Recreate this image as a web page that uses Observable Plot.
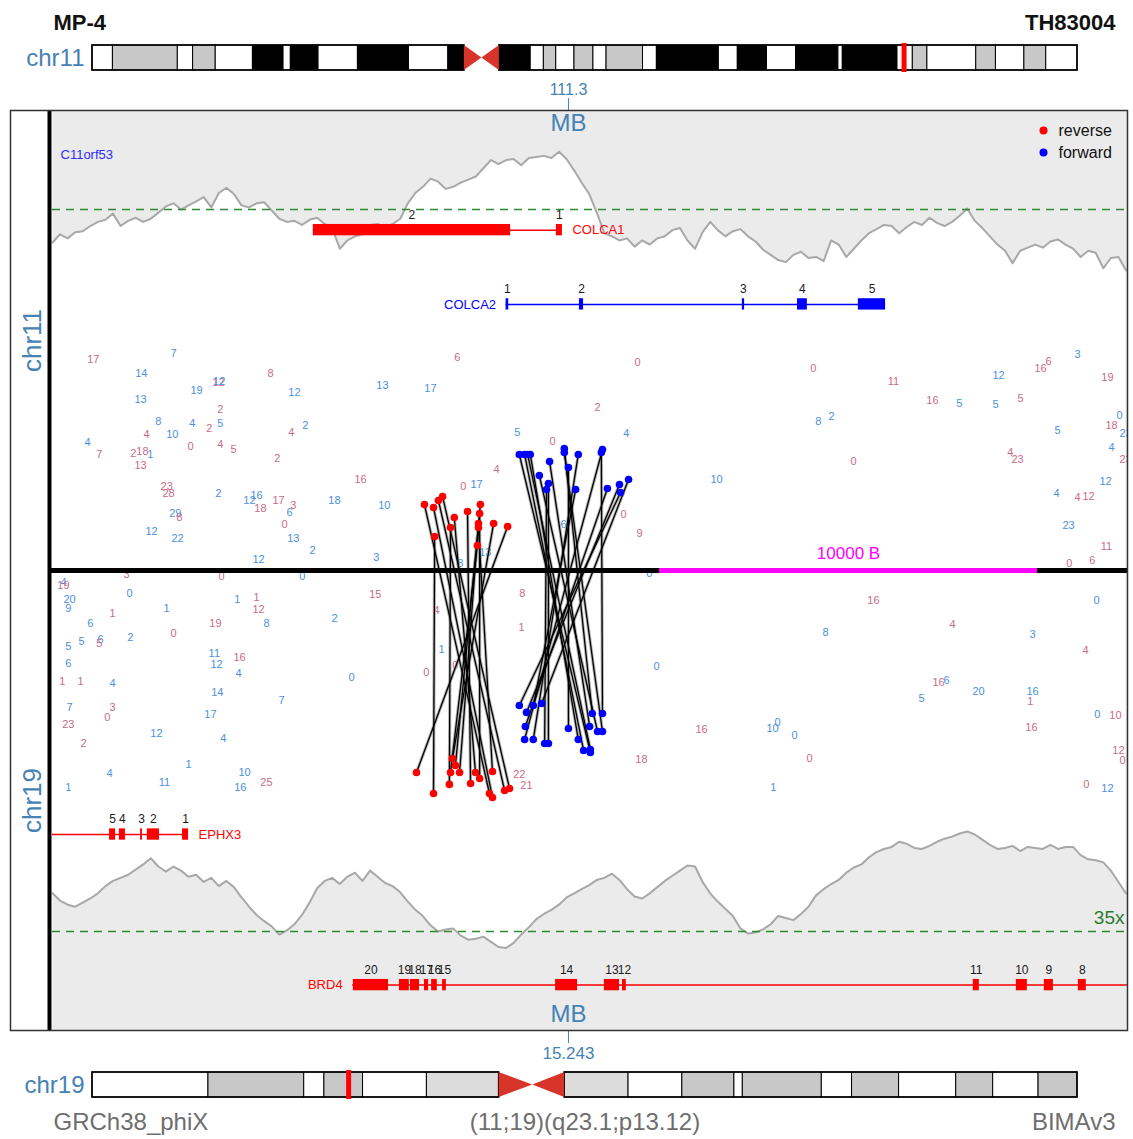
<!DOCTYPE html>
<html>
<head>
<meta charset="utf-8">
<script src="https://cdn.jsdelivr.net/npm/d3@7"></script>
<script src="https://cdn.jsdelivr.net/npm/@observablehq/plot@0.6"></script>
<style>
  body { margin: 0; background: #fff; }
  #chart { width: 1133px; }
  #chart svg { display: block; }
</style>
</head>
<body>
<div id="chart"></div>
<script>
// ---- sample / annotation text ----
const sampleName = "MP-4";
const sampleId = "TH83004";
const genomeBuild = "GRCh38_phiX";
const karyotype = "(11;19)(q23.1;p13.12)";
const pipeline = "BIMAv3";

// ---- breakpoints (Mb) and chromosome lengths (Mb) ----
const bp11Mb = 111.3;
const bp19Mb = 15.243;
const chr11Length = 135.086;
const chr19Length = 58.617;

// ---- cytobands: [start Mb, end Mb, stain] ----
const chr11Bands = [
  [0, 2.8, "gneg"], [2.8, 11.7, "gpos50"], [11.7, 13.8, "gneg"], [13.8, 16.9, "gpos50"],
  [16.9, 22.0, "gneg"], [22.0, 26.2, "gpos100"], [26.2, 27.2, "gneg"], [27.2, 31.0, "gpos75"],
  [31.0, 36.4, "gneg"], [36.4, 43.4, "gpos100"], [43.4, 48.8, "gneg"], [48.8, 51.0, "gpos75"],
  [51.0, 53.4, "acen"], [53.4, 55.8, "acen"], [55.8, 60.1, "gpos75"], [60.1, 61.9, "gneg"],
  [61.9, 63.6, "gpos25"], [63.6, 66.1, "gneg"], [66.1, 68.7, "gpos25"], [68.7, 70.5, "gneg"],
  [70.5, 75.5, "gpos50"], [75.5, 77.4, "gneg"], [77.4, 85.9, "gpos100"], [85.9, 88.5, "gneg"],
  [88.5, 92.5, "gpos100"], [92.5, 96.5, "gneg"], [96.5, 102.3, "gpos100"], [102.3, 102.9, "gneg"],
  [102.9, 110.4, "gpos100"], [110.4, 112.5, "gneg"], [112.5, 114.5, "gpos50"], [114.5, 121.2, "gneg"],
  [121.2, 123.9, "gpos50"], [123.9, 127.8, "gneg"], [127.8, 130.8, "gpos50"], [130.8, 135.086, "gneg"]
];
const chr19Bands = [
  [0, 6.9, "gneg"], [6.9, 12.6, "gpos25"], [12.6, 13.8, "gneg"], [13.8, 16.1, "gpos25"],
  [16.1, 19.9, "gneg"], [19.9, 24.2, "gvar"], [24.2, 26.2, "acen"], [26.2, 28.1, "acen"],
  [28.1, 31.9, "gvar"], [31.9, 35.1, "gneg"], [35.1, 38.2, "gpos25"], [38.2, 38.7, "gneg"],
  [38.7, 43.4, "gpos25"], [43.4, 45.2, "gneg"], [45.2, 48.0, "gpos25"], [48.0, 51.4, "gneg"],
  [51.4, 53.6, "gpos25"], [53.6, 56.3, "gneg"], [56.3, 58.617, "gpos25"]
];

// ---- breakpoint window, kb relative to the breakpoint ----
const viewKb = [-13.65, 14.79];
const depthRange = 44.6;   // half-height of the window, in reads
const meanDepth = 35;
const binStartKb = -13.65;
const binKb = 0.2;

// read depth per 200 bp bin
const depth11 = [
  31.8,32.6,32.2,32.8,32.9,33.4,33.8,34.0,34.6,33.4,
  33.9,34.2,33.8,34.1,34.7,35.3,35.6,35.0,35.4,35.8,
  36.2,35.2,36.6,37.1,36.5,35.4,35.2,35.6,35.7,34.9,
  34.1,33.8,33.9,33.5,34.0,34.2,33.6,33.2,31.2,32.0,
  32.4,32.6,33.5,33.6,33.3,33.6,34.1,35.6,36.6,37.2,
  38.0,37.7,37.0,37.2,37.6,37.9,38.2,39.0,39.8,39.4,
  39.8,39.9,39.3,40.0,40.1,40.2,40.0,40.6,39.9,38.8,
  37.6,36.5,34.7,32.7,32.4,32.0,32.2,31.4,32.0,31.6,
  32.2,32.4,33.0,33.2,32.0,31.2,32.8,33.8,33.0,32.4,
  32.9,33.1,32.4,31.9,31.1,30.6,30.1,29.9,30.6,30.9,
  30.3,30.4,30.0,32.0,31.6,30.4,31.2,32.0,32.7,33.1,
  33.5,33.4,32.7,33.3,33.8,33.5,34.2,33.7,33.4,33.8,
  34.4,35.1,33.9,33.2,32.4,31.6,31.0,29.8,31.0,31.3,
  31.6,31.3,31.9,32.1,31.6,31.2,30.4,31.0,30.8,29.3,
  30.3,30.4,29.1
];
const depth19 = [
  31.3,32.0,32.4,32.6,32.2,31.8,31.3,30.6,30.1,29.8,
  29.5,29.0,28.5,27.9,28.7,29.2,28.7,29.1,29.7,29.5,
  30.2,29.8,30.6,30.1,30.7,31.7,32.6,33.4,34.0,34.5,
  35.3,34.9,34.3,33.4,32.2,30.8,30.1,29.8,30.4,29.7,
  29.3,30.1,29.1,29.7,30.3,30.6,31.2,32.1,32.9,33.5,
  34.4,35.0,34.8,34.7,35.4,35.8,35.7,35.5,36.0,36.5,
  36.6,36.1,35.3,34.6,33.8,33.3,32.9,32.4,31.7,31.3,
  30.9,30.5,30.0,29.8,29.4,30.0,30.9,31.6,31.8,31.3,
  30.7,30.1,29.6,29.1,28.6,28.7,30.2,31.3,32.1,32.8,
  33.5,34.7,35.2,35.1,34.8,34.3,33.5,33.7,33.9,33.3,
  32.6,31.5,30.9,30.4,30.0,29.3,28.8,28.5,27.8,27.3,
  27.0,26.8,26.3,26.5,26.9,27.0,26.7,26.3,26.0,25.8,
  25.5,25.3,25.6,26.1,26.6,27.0,26.9,26.7,27.2,26.8,
  26.9,27.0,26.6,27.0,26.8,26.8,27.6,28.0,28.1,28.3,
  29.1,30.2,31.3
];

// ---- scale bar ----
const scaleBarStartKb = 2.41;
const scaleBarKb = 10;

// ---- genes: [exon, start kb, end kb] ----
const colca1Span = [-6.75, -0.16];
const colca1Exons = [["2", -6.75, -1.53], ["1", -0.32, -0.16]];
const colca2Span = [-1.65, 8.39];
const colca2Exons = [["1", -1.65, -1.58], ["2", 0.29, 0.40], ["3", 4.60, 4.66], ["4", 6.06, 6.32], ["5", 7.67, 8.39]];
const ephx3Span = [-16, -10.05];
const ephx3Exons = [["5", -12.14, -11.98], ["4", -11.88, -11.72], ["3", -11.32, -11.27], ["2", -11.14, -10.82], ["1", -10.21, -10.05]];
const brd4Span = [-5.71, 20];
const brd4Exons = [
  ["20", -5.69, -4.76], ["19", -4.47, -4.21], ["18", -4.18, -3.94], ["17", -3.81, -3.70],
  ["16", -3.62, -3.47], ["15", -3.33, -3.23], ["14", -0.34, 0.24], ["13", 0.95, 1.35],
  ["12", 1.43, 1.53], ["11", 10.71, 10.87], ["10", 11.85, 12.14], ["9", 12.59, 12.83], ["8", 13.49, 13.70]
];

// ---- clipped-read counts: [kb, height, count, strand r/f] ----
const labels11 = [
  [-12.57,20.46,"17","r"],[-10.45,21.04,"7","f"],[-11.30,19.10,"14","f"],[-7.88,19.10,"8","r"],
  [-9.26,18.23,"12","r"],[-9.24,18.30,"12","f"],[-9.84,17.45,"19","f"],[-7.25,17.26,"12","f"],
  [-4.92,17.94,"13","f"],[-3.65,17.65,"17","f"],[-2.94,20.65,"6","r"],[-11.32,16.58,"13","f"],
  [-9.21,15.61,"2","r"],[-10.85,14.45,"8","f"],[-9.95,14.25,"4","f"],[-9.21,14.25,"5","f"],
  [-9.50,13.77,"2","r"],[-6.96,14.06,"2","f"],[-7.33,13.38,"4","r"],[-11.16,13.19,"4","r"],
  [-10.48,13.19,"10","f"],[-12.72,12.41,"4","f"],[-10.00,12.02,"0","r"],[-9.21,12.22,"4","r"],
  [-8.86,11.73,"5","r"],[-12.41,11.25,"7","r"],[-11.51,11.34,"2","r"],[-11.27,11.54,"18","r"],
  [-11.06,11.25,"1","f"],[-11.32,10.18,"13","r"],[-7.70,10.86,"2","r"],[-5.50,8.82,"16","r"],
  [-2.78,8.15,"0","r"],[-2.43,8.34,"17","f"],[-10.63,8.15,"23","r"],[-10.58,7.47,"28","r"],
  [-9.26,7.47,"2","f"],[-8.44,6.79,"12","f"],[-8.25,7.27,"16","f"],[-7.67,6.79,"17","r"],
  [-7.28,6.30,"3","r"],[-8.15,6.01,"18","r"],[-6.19,6.79,"18","f"],[-4.87,6.30,"10","f"],
  [-7.38,5.62,"6","f"],[-10.40,5.53,"29","f"],[-10.29,5.14,"8","r"],[-7.51,4.46,"0","r"],
  [-11.03,3.78,"12","f"],[-10.34,3.10,"22","f"],[-7.28,3.10,"13","f"],[-6.77,1.94,"2","f"],
  [-8.20,1.07,"12","f"],[-5.08,1.26,"3","f"],[-1.35,13.38,"5","f"],[-0.42,12.51,"0","r"],
  [1.53,13.28,"4","f"],[-1.90,9.79,"4","r"],[0.77,15.81,"2","r"],[1.83,20.17,"0","r"],
  [1.46,5.43,"0","r"],[1.88,3.59,"9","r"],[-0.13,4.46,"6","f"],[-2.20,1.75,"13","f"],
  [-2.86,0.68,"8","f"],[3.92,8.82,"10","f"],[6.48,19.59,"0","r"],[8.60,18.33,"11","r"],
  [6.61,14.45,"8","f"],[6.96,14.93,"2","f"],[7.54,10.57,"0","r"],[9.63,16.48,"16","r"],
  [10.34,16.19,"5","f"],[11.38,18.91,"12","f"],[11.30,16.09,"5","f"],[11.96,16.68,"5","r"],
  [12.49,19.59,"16","r"],[12.70,20.27,"6","r"],[13.47,20.94,"3","f"],[14.26,18.71,"19","r"],
  [14.58,15.03,"0","f"],[14.37,14.06,"18","r"],[14.74,13.28,"23","f"],[12.94,13.57,"5","f"],
  [14.37,11.93,"4","f"],[11.69,11.44,"4","r"],[11.88,10.76,"23","r"],[14.74,10.76,"23","r"],
  [14.21,8.63,"12","f"],[12.91,7.47,"4","f"],[13.47,7.08,"4","r"],[13.76,7.17,"12","r"],
  [13.23,4.36,"23","f"],[14.23,2.33,"11","r"],[13.25,0.68,"0","r"],[13.86,0.97,"6","r"]
];
const labels19 = [
  [-11.69,-0.39,"3","r"],[-9.18,-0.58,"0","r"],[-7.04,-0.58,"0","f"],[-13.36,-1.16,"4","f"],
  [-13.36,-1.45,"19","r"],[-13.20,-2.81,"20","f"],[-13.23,-3.68,"9","f"],[-11.61,-2.23,"0","f"],
  [-10.63,-3.68,"1","f"],[-8.76,-2.81,"1","f"],[-8.25,-2.62,"1","r"],[-8.20,-3.78,"12","r"],
  [-5.11,-2.33,"15","r"],[-12.06,-4.17,"1","r"],[-12.65,-5.14,"6","f"],[-9.34,-5.14,"19","r"],
  [-7.99,-5.14,"8","f"],[-6.19,-4.65,"2","f"],[-13.23,-7.37,"5","f"],[-12.88,-6.88,"5","f"],
  [-12.38,-6.69,"6","f"],[-12.41,-7.08,"5","r"],[-11.59,-6.50,"2","f"],[-10.45,-6.11,"0","r"],
  [-9.37,-8.05,"11","f"],[-9.31,-9.11,"12","f"],[-8.70,-8.43,"16","r"],[-8.73,-9.98,"4","f"],
  [-13.23,-9.02,"6","f"],[-13.39,-10.76,"1","r"],[-12.91,-10.76,"1","r"],[-12.06,-10.95,"4","f"],
  [-9.29,-11.82,"14","f"],[-5.74,-10.37,"0","f"],[-7.59,-12.60,"7","f"],[-3.76,-9.89,"0","r"],
  [-13.20,-13.28,"7","f"],[-12.06,-13.28,"3","r"],[-12.20,-14.25,"0","r"],[-9.47,-13.96,"17","f"],
  [-13.23,-14.93,"23","r"],[-10.90,-15.80,"12","f"],[-9.13,-16.29,"4","f"],[-12.83,-16.77,"2","r"],
  [-10.05,-18.81,"1","f"],[-8.57,-19.58,"10","f"],[-12.14,-19.68,"4","f"],[-10.69,-20.55,"11","f"],
  [-7.99,-20.55,"25","r"],[-8.68,-21.04,"16","f"],[-13.23,-21.04,"1","f"],[-1.22,-2.23,"8","r"],
  [-3.49,-3.88,"4","r"],[-1.24,-5.53,"1","r"],[-3.36,-7.66,"1","f"],[-2.99,-9.21,"0","r"],
  [-1.30,-19.78,"22","r"],[-1.11,-20.84,"21","r"],[1.93,-18.32,"18","r"],[2.14,-0.29,"0","f"],
  [8.07,-2.91,"16","r"],[13.97,-2.91,"0","f"],[6.80,-6.01,"8","f"],[10.16,-5.23,"4","r"],
  [12.28,-6.20,"3","f"],[13.68,-7.76,"4","r"],[2.33,-9.30,"0","f"],[9.79,-10.86,"16","r"],
  [10.00,-10.66,"6","f"],[9.34,-12.41,"5","f"],[10.85,-11.73,"20","f"],[12.28,-11.73,"16","f"],
  [12.22,-12.70,"1","r"],[13.99,-13.96,"0","f"],[14.47,-14.06,"10","r"],[3.52,-15.41,"16","r"],
  [5.40,-15.32,"10","f"],[5.53,-14.74,"0","f"],[5.98,-16.00,"0","f"],[12.25,-15.22,"16","r"],
  [6.38,-18.23,"0","r"],[14.55,-17.45,"12","r"],[14.66,-18.42,"0","r"],[5.42,-21.04,"1","f"],
  [13.70,-20.74,"0","r"],[14.26,-21.13,"12","f"]
];

// ---- split-read pairs: [chr11 kb, height, chr19 kb, height] ----
const reversePairs = [
  [-3.81,6.40,-2.09,-21.62],[-3.57,6.11,-2.01,-22.01],[-3.44,6.79,-1.69,-21.33],[-3.33,7.17,-1.56,-21.13],
  [-3.54,3.30,-3.57,-21.62],[-3.12,4.17,-3.15,-20.74],[-3.02,5.14,-2.46,-19.58],[-2.67,5.72,-2.59,-20.65],
  [-2.33,6.40,-2.99,-18.90],[-2.35,5.53,-2.35,-20.16],[-2.38,4.56,-2.88,-19.58],[-2.38,4.17,-2.01,-19.49],
  [-2.41,2.42,-3.12,-19.58],[-1.98,4.56,-3.07,-18.23],[-1.61,4.27,-4.02,-19.58]
];
const forwardPairs = [
  [-1.30,11.25,0.58,-17.64],[-1.16,11.25,0.40,-17.45],[-1.08,11.25,0.58,-17.35],[-1.01,11.25,0.26,-16.38],
  [-0.77,9.21,0.77,-15.61],[-0.50,10.57,0.56,-15.12],[-0.53,8.43,-0.53,-16.77],[-0.58,7.85,-0.63,-16.77],
  [-0.11,11.83,0.63,-13.86],[-0.11,11.44,0.90,-15.61],[0.00,9.99,0.00,-15.32],[0.26,11.25,-0.93,-16.38],
  [0.19,7.85,-0.93,-13.09],[0.87,11.44,0.90,-13.86],[0.90,11.73,-1.16,-16.38],[1.03,7.95,-1.14,-15.12],
  [1.35,8.34,-1.11,-13.76],[1.38,7.56,-1.30,-13.09],[1.59,8.82,-0.71,-12.89]
];

// ---- styling ----
const font = "'Liberation Sans', Arial, Helvetica, sans-serif";
const steel = "#4682b4";
const revDot = "#ff0000", fwdDot = "#0000ff";
const revText = "#cc6a86", fwdText = "#4a90e2";
const stainFill = {
  gneg: "#ffffff", gpos25: "#c8c8c8", gpos50: "#c8c8c8", gpos75: "#000000",
  gpos100: "#000000", gvar: "#dcdcdc", acen: "#d8352a"
};

function ideogram({name, length, bands, breakpoint, height, marginTop, marginBottom, extra = []}) {
  const rows = bands.map(([start, end, stain]) => ({start, end, stain}));
  const acen = rows.filter((d) => d.stain === "acen");
  const cenStart = d3.min(acen, (d) => d.start);
  const cenEnd = d3.max(acen, (d) => d.end);
  const cenMid = acen[0].end;
  const arms = [{start: 0, end: cenStart}, {start: cenEnd, end: length}];
  const bowtie = [
    {x: cenStart, lo: 0, hi: 1},
    {x: cenMid, lo: 0.5, hi: 0.5},
    {x: cenEnd, lo: 0, hi: 1}
  ];
  return Plot.plot({
    width: 1133, height, marginLeft: 92, marginRight: 56, marginTop, marginBottom,
    x: {domain: [0, length], axis: null},
    y: {domain: [0, 1], axis: null, reverse: true},
    style: {fontFamily: font, background: "white", overflow: "visible"},
    marks: [
      Plot.rect(rows.filter((d) => d.stain !== "acen"), {
        x1: "start", x2: "end", y1: 0, y2: 1,
        fill: (d) => stainFill[d.stain], stroke: "#000", strokeWidth: 1
      }),
      Plot.rect(arms, {x1: "start", x2: "end", y1: 0, y2: 1, fill: "none", stroke: "#000", strokeWidth: 1.6}),
      Plot.areaY(bowtie, {x: "x", y1: "lo", y2: "hi", fill: stainFill.acen}),
      Plot.ruleX([breakpoint], {y1: 0, y2: 1, stroke: "#ff0000", strokeWidth: 5, insetTop: -2, insetBottom: -2}),
      Plot.text([name], {frameAnchor: "left", dx: -8, textAnchor: "end", lineAnchor: "middle", fontSize: 24, fill: steel}),
      ...extra
    ]
  });
}

// chromosome 11 ideogram with the sample header
const ideo11 = ideogram({
  name: "chr11", length: chr11Length, bands: chr11Bands, breakpoint: bp11Mb,
  height: 78, marginTop: 45, marginBottom: 8,
  extra: [
    Plot.text([sampleName], {frameAnchor: "top-left", dx: -39, dy: -23, textAnchor: "start", lineAnchor: "middle",
      fontSize: 22, fontWeight: "bold", fill: "#111"}),
    Plot.text([sampleId], {frameAnchor: "top-right", dx: 38, dy: -23, textAnchor: "end", lineAnchor: "middle",
      fontSize: 22, fontWeight: "bold", fill: "#111"})
  ]
});

// chromosome 19 ideogram with the footer
const footerColor = "#6e6e6e";
const ideo19 = ideogram({
  name: "chr19", length: chr19Length, bands: chr19Bands, breakpoint: bp19Mb,
  height: 77, marginTop: 10, marginBottom: 42,
  extra: [
    Plot.text([genomeBuild], {frameAnchor: "bottom-left", dx: -39, dy: 25, textAnchor: "start", lineAnchor: "middle", fontSize: 24, fill: footerColor}),
    Plot.text([karyotype], {frameAnchor: "bottom", dy: 25, textAnchor: "middle", lineAnchor: "middle", fontSize: 24, fill: footerColor}),
    Plot.text([pipeline], {frameAnchor: "bottom-right", dx: 38, dy: 25, textAnchor: "end", lineAnchor: "middle", fontSize: 24, fill: footerColor})
  ]
});

// ---- breakpoint window ----
const bins11 = depth11.map((d, i) => ({pos: binStartKb + i * binKb, depth: d}));
const bins19 = depth19.map((d, i) => ({pos: binStartKb + i * binKb, depth: -d}));

const tracks = [
  {name: "COLCA1", exons: colca1Exons, span: colca1Span, lane: 33.0, color: "#ff0000", nameAt: "end"},
  {name: "COLCA2", exons: colca2Exons, span: colca2Span, lane: 25.8, color: "#0000ff", nameAt: "start"},
  {name: "EPHX3", exons: ephx3Exons, span: ephx3Span, lane: -25.6, color: "#ff0000", nameAt: "end"},
  {name: "BRD4", exons: brd4Exons, span: brd4Span, lane: -40.2, color: "#ff0000", nameAt: "start"}
];
const exonHalf = 0.55;
const geneMarks = tracks.flatMap((t) => [
  Plot.ruleY([t.lane], {x1: t.span[0], x2: t.span[1], stroke: t.color, strokeWidth: 1.5, clip: true}),
  Plot.rect(t.exons, {x1: (d) => d[1], x2: (d) => d[2], y1: t.lane - exonHalf, y2: t.lane + exonHalf, fill: t.color, clip: true}),
  Plot.text(t.exons, {x: (d) => (d[1] + d[2]) / 2, y: t.lane, text: (d) => d[0], dy: -15, fontSize: 12, fill: "#1a1a1a"}),
  Plot.text([t.name], {
    x: t.nameAt === "end" ? t.span[1] : t.span[0], y: t.lane,
    dx: t.nameAt === "end" ? 10 : -10, textAnchor: t.nameAt === "end" ? "start" : "end",
    fill: t.color, fontSize: 13
  })
]);

const countMarks = [labels11, labels19].map((rows) =>
  Plot.text(rows, {
    x: (d) => d[0], y: (d) => d[1], text: (d) => d[2],
    fill: (d) => (d[3] === "r" ? revText : fwdText), fontSize: 11, clip: true
  })
);

const pairSets = [[reversePairs, revDot], [forwardPairs, fwdDot]];
const pairMarks = pairSets.flatMap(([rows]) => [
  Plot.link(rows, {x1: (d) => d[0], y1: (d) => d[1], x2: (d) => d[2], y2: (d) => d[3], stroke: "#9a9a9a", strokeWidth: 3.2, strokeOpacity: 0.7}),
  Plot.link(rows, {x1: (d) => d[0], y1: (d) => d[1], x2: (d) => d[2], y2: (d) => d[3], stroke: "#000", strokeWidth: 1.3})
]);
const dotMarks = pairSets.flatMap(([rows, color]) => [
  Plot.dot(rows, {x: (d) => d[0], y: (d) => d[1], r: 3.8, fill: color}),
  Plot.dot(rows, {x: (d) => d[2], y: (d) => d[3], r: 3.8, fill: color})
]);

const legend = [["reverse", revDot, 20], ["forward", fwdDot, 42]].flatMap(([label, color, offset]) => [
  Plot.dot([label], {frameAnchor: "top-right", dx: -84, dy: offset, r: 4, fill: color}),
  Plot.text([label], {frameAnchor: "top-right", dx: -69, dy: offset, textAnchor: "start", lineAnchor: "middle", fontSize: 16, fill: "#111"})
]);

const windowPlot = Plot.plot({
  width: 1133, height: 984,
  marginTop: 32, marginBottom: 32, marginLeft: 52, marginRight: 6,
  x: {domain: viewKb},
  y: {domain: [-depthRange, depthRange], axis: null},
  style: {fontFamily: font, background: "white", overflow: "visible"},
  marks: [
    Plot.frame({fill: "#ebebeb", stroke: "none"}),
    Plot.areaY(bins11, {x: "pos", y1: 0, y2: "depth", fill: "#ffffff"}),
    Plot.areaY(bins19, {x: "pos", y1: 0, y2: "depth", fill: "#ffffff"}),
    Plot.lineY(bins11, {x: "pos", y: "depth", stroke: "#a8a8a8", strokeWidth: 2}),
    Plot.lineY(bins19, {x: "pos", y: "depth", stroke: "#a8a8a8", strokeWidth: 2}),
    Plot.ruleY([meanDepth, -meanDepth], {stroke: "#2f8a2f", strokeWidth: 1.3, strokeDasharray: "8,6"}),
    Plot.text([-meanDepth], {y: (d) => d, text: () => `${meanDepth}x`, frameAnchor: "right", dx: -3, dy: -14,
      textAnchor: "end", lineAnchor: "middle", fill: "#2d7a2d", fontSize: 19}),
    Plot.text(["C11orf53"], {x: viewKb[0], y: 40.3, dx: 8, textAnchor: "start", fill: "#2b2bff", fontSize: 13}),
    ...geneMarks,
    ...countMarks,
    ...pairMarks,
    Plot.ruleY([0], {stroke: "#000", strokeWidth: 5, insetLeft: -3}),
    Plot.ruleY([0], {x1: scaleBarStartKb, x2: scaleBarStartKb + scaleBarKb, stroke: "#ff00ff", strokeWidth: 5}),
    Plot.text([scaleBarKb], {x: (d) => scaleBarStartKb + d / 2, y: 0, dy: -17, text: (d) => `${d * 1000} B`,
      fill: "#ff00ff", fontSize: 17}),
    ...dotMarks,
    ...legend,
    Plot.text(["MB"], {x: () => 0, frameAnchor: "top", dy: 13, lineAnchor: "middle", fontSize: 24, fill: steel}),
    Plot.text(["MB"], {x: () => 0, frameAnchor: "bottom", dy: -16, lineAnchor: "middle", fontSize: 24, fill: steel}),
    Plot.axisX([0], {anchor: "top", tickFormat: () => String(bp11Mb), tickSize: 13, tickPadding: 3,
      fontSize: 16, color: steel, label: null}),
    Plot.axisX([0], {anchor: "bottom", tickFormat: () => String(bp19Mb), tickSize: 13, tickPadding: 3,
      fontSize: 17, color: steel, label: null}),
    Plot.text([{name: "chr11", mid: depthRange / 2}, {name: "chr19", mid: -depthRange / 2}], {
      y: "mid", text: "name", frameAnchor: "left", dx: -20, rotate: -90,
      textAnchor: "middle", lineAnchor: "middle", fontSize: 26, fill: steel
    }),
    Plot.ruleX([viewKb[0]], {stroke: "#000", strokeWidth: 4, dx: -3}),
    Plot.frame({stroke: "#333", strokeWidth: 1.5, insetLeft: -42})
  ]
});

document.getElementById("chart").append(ideo11, windowPlot, ideo19);
</script>
</body>
</html>
